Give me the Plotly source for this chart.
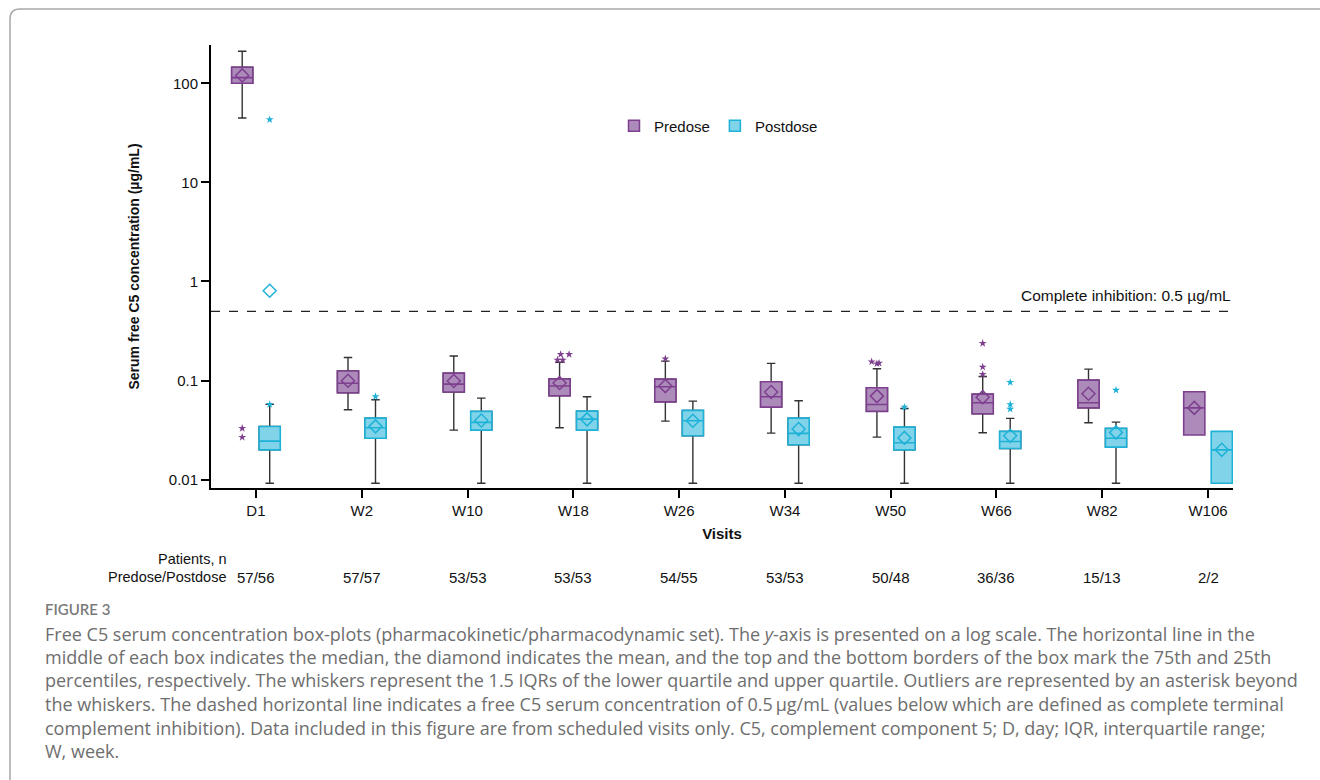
import numpy as np
import plotly.graph_objects as go

# ---------------- data ----------------
visits = ["D1", "W2", "W10", "W18", "W26", "W34", "W50", "W66", "W82", "W106"]
n_labels = ["57/56", "57/57", "53/53", "53/53", "54/55", "53/53", "50/48", "36/36", "15/13", "2/2"]

pre_q1 = [100, 0.0753, 0.0766, 0.0703, 0.061, 0.054, 0.0489, 0.0462, 0.053, 0.0282]
pre_med = [114, 0.094, 0.092, 0.088, 0.0867, 0.0687, 0.0574, 0.0597, 0.0597, 0.053]
pre_q3 = [145, 0.125, 0.119, 0.104, 0.1035, 0.0973, 0.0846, 0.073, 0.101, 0.077]
pre_lo = [44.6, 0.0507, 0.0316, 0.0334, 0.039, 0.0295, 0.0269, 0.0297, 0.0375]
pre_hi = [210, 0.171, 0.177, 0.153, 0.157, 0.149, 0.1315, 0.110, 0.1306]
pre_mean = [120, 0.0995, 0.0989, 0.0944, 0.088, 0.0766, 0.0697, 0.068, 0.0736, 0.053]

post_q1 = [0.020, 0.0262, 0.0316, 0.0316, 0.0277, 0.0225, 0.020, 0.0206, 0.0213, 0.0092]
post_med = [0.0245, 0.0334, 0.0379, 0.0408, 0.0393, 0.0293, 0.0236, 0.0243, 0.0262, 0.020]
post_q3 = [0.0344, 0.0418, 0.0489, 0.0492, 0.050, 0.0418, 0.0339, 0.0307, 0.0329, 0.0307]
post_lo = [0.0092, 0.0092, 0.0092, 0.0092, 0.0092, 0.0092, 0.0092, 0.0092, 0.0092]
post_hi = [0.0575, 0.064, 0.0665, 0.0687, 0.062, 0.0625, 0.0523, 0.0415, 0.0381]
post_mean = [0.805, 0.0345, 0.0396, 0.0406, 0.0393, 0.0324, 0.0264, 0.0277, 0.030, 0.020]

# outliers: visit index and value
pre_out_visit = [0, 0, 3, 3, 3, 3, 4, 6, 6, 6, 7, 7, 7]
pre_out_val = [0.033, 0.0268, 0.184, 0.184, 0.161, 0.161, 0.166, 0.155, 0.148, 0.150, 0.2377, 0.137, 0.1156]
pre_out_jitter = [0, 0, 0.01, 0.09, -0.02, 0.03, 0, -0.05, 0, 0.02, 0, 0, 0]
post_out_visit = [0, 0, 1, 6, 7, 7, 7, 8]
post_out_val = [43, 0.0575, 0.069, 0.054, 0.0959, 0.0574, 0.0515, 0.080]
post_out_jitter = [0, 0, 0, 0, 0, 0, 0, 0]

threshold = 0.5

# ---------------- style ----------------
PRE_LINE = "#7E3F8F"
PRE_FILL = "#AC8BBA"
POST_LINE = "#1EB2D8"
POST_FILL = "#80D3E9"
WHISK = "#333333"
FONT = "Liberation Sans, Arial, sans-serif"
CAP_FONT = "Open Sans, Lato, sans-serif"

W, H = 1320, 780
L, R, T, B = 211, 1233, 45, 488
OFF = 0.13
BW = 0.2


def px_x(x):
    return (x - L) / (R - L)


def px_y(y):
    return 1 - (y - T) / (B - T)


xi = np.arange(len(visits))
x_pre = xi - OFF
x_post = xi + OFF

fig = go.Figure()

# whiskers (black) for predose/postdose
for xs, lo, hi, q1, md, q3 in [
    (x_pre, pre_lo, pre_hi, pre_q1, pre_med, pre_q3),
    (x_post, post_lo, post_hi, post_q1, post_med, post_q3),
]:
    n = len(lo)
    fig.add_trace(go.Box(
        x=list(xs[:n]), q1=q1[:n], median=md[:n], q3=q3[:n],
        lowerfence=lo, upperfence=hi,
        width=BW, whiskerwidth=0.4, boxpoints=False,
        line=dict(color=WHISK, width=1.4), fillcolor="rgba(0,0,0,0)",
        showlegend=False, hoverinfo="skip",
    ))

# coloured boxes
for xs, q1, md, q3, lc, fc in [
    (x_pre, pre_q1, pre_med, pre_q3, PRE_LINE, PRE_FILL),
    (x_post, post_q1, post_med, post_q3, POST_LINE, POST_FILL),
]:
    fig.add_trace(go.Box(
        x=list(xs), q1=q1, median=md, q3=q3,
        lowerfence=q1, upperfence=q3,
        width=BW, whiskerwidth=0, boxpoints=False,
        line=dict(color=lc, width=1.6), fillcolor=fc,
        showlegend=False, hoverinfo="skip",
    ))

# means
fig.add_trace(go.Scatter(x=list(x_pre), y=pre_mean, mode="markers",
                         marker=dict(symbol="diamond-open", size=10, color=PRE_LINE, line=dict(width=1.5)),
                         showlegend=False, hoverinfo="skip"))
fig.add_trace(go.Scatter(x=list(x_post), y=post_mean, mode="markers",
                         marker=dict(symbol="diamond-open", size=10, color=POST_LINE, line=dict(width=1.5)),
                         showlegend=False, hoverinfo="skip"))

# outliers
fig.add_trace(go.Scatter(
    x=[v - OFF + j for v, j in zip(pre_out_visit, pre_out_jitter)], y=pre_out_val, mode="markers",
    marker=dict(symbol="star", size=6, color=PRE_LINE, line=dict(width=0)),
    showlegend=False, hoverinfo="skip"))
fig.add_trace(go.Scatter(
    x=[v + OFF + j for v, j in zip(post_out_visit, post_out_jitter)], y=post_out_val, mode="markers",
    marker=dict(symbol="star", size=6, color=POST_LINE, line=dict(width=0)),
    showlegend=False, hoverinfo="skip"))

# threshold line
xr = [-0.425, 9.236]
fig.add_trace(go.Scatter(x=xr, y=[threshold, threshold], mode="lines",
                         line=dict(color="#222222", width=1.3, dash="dash"),
                         showlegend=False, hoverinfo="skip"))

# legend entries
fig.add_trace(go.Scatter(x=[None], y=[None], mode="markers", name="Predose",
                         marker=dict(symbol="square", size=11, color=PRE_FILL, line=dict(color=PRE_LINE, width=1.5))))
fig.add_trace(go.Scatter(x=[None], y=[None], mode="markers", name="Postdose",
                         marker=dict(symbol="square", size=11, color=POST_FILL, line=dict(color=POST_LINE, width=1.5))))

annotations = []
annotations.append(dict(x=1, xref="paper", xanchor="right", y=np.log10(threshold), yref="y",
                        yanchor="bottom", yshift=5, showarrow=False,
                        text="Complete inhibition: 0.5 µg/mL", font=dict(family=FONT, size=15.5, color="#111")))

# patient counts
annotations.append(dict(x=px_x(229), xref="paper", xanchor="right", y=px_y(559), yref="paper",
                        yanchor="middle", showarrow=False, text="Patients, n",
                        font=dict(family=FONT, size=14.5, color="#111")))
annotations.append(dict(x=px_x(229), xref="paper", xanchor="right", y=px_y(577), yref="paper",
                        yanchor="middle", showarrow=False, text="Predose/Postdose",
                        font=dict(family=FONT, size=14.5, color="#111")))
for i, t in enumerate(n_labels):
    annotations.append(dict(x=i, xref="x", xanchor="center", y=px_y(577), yref="paper",
                            yanchor="middle", showarrow=False, text=t,
                            font=dict(family=FONT, size=15, color="#111")))

# caption
annotations.append(dict(x=px_x(43), xref="paper", xanchor="left", y=px_y(609), yref="paper",
                        yanchor="middle", showarrow=False, text="FIGURE 3",
                        font=dict(family="Lato, sans-serif", size=15, color="#7a7a7a", weight=600)))
caption = [
    "Free C5 serum concentration box-plots (pharmacokinetic/pharmacodynamic set). The <i>y</i>-axis is presented on a log scale. The horizontal line in the",
    "middle of each box indicates the median, the diamond indicates the mean, and the top and the bottom borders of the box mark the 75th and 25th",
    "percentiles, respectively. The whiskers represent the 1.5 IQRs of the lower quartile and upper quartile. Outliers are represented by an asterisk beyond",
    "the whiskers. The dashed horizontal line indicates a free C5 serum concentration of 0.5\u2009\u03bcg/mL (values below which are defined as complete terminal",
    "complement inhibition). Data included in this figure are from scheduled visits only. C5, complement component 5; D, day; IQR, interquartile range;",
    "W, week.",
]
cap_y = [634, 657, 680, 704, 728, 751]
for t, yy in zip(caption, cap_y):
    annotations.append(dict(x=px_x(43), xref="paper", xanchor="left", y=px_y(yy), yref="paper",
                            yanchor="middle", showarrow=False, text=t,
                            font=dict(family=CAP_FONT, size=18, color="#6e6e6e")))

# frame
x0, y0 = px_x(10), px_y(9)
path = (f"M {x0},{px_y(800)} L {x0},{px_y(19)} Q {x0},{y0} {px_x(20)},{y0} L {px_x(1340)},{y0}")
shapes = [dict(type="path", xref="paper", yref="paper", path=path,
               line=dict(color="#a8a8a8", width=1.5))]

fig.update_layout(
    width=W, height=H,
    margin=dict(l=L, r=W - R, t=T, b=H - B),
    paper_bgcolor="white", plot_bgcolor="white",
    boxmode="overlay",
    font=dict(family=FONT, size=15, color="#111"),
    legend=dict(orientation="h", x=px_x(614), xanchor="left", y=px_y(126), yanchor="middle",
                font=dict(family=FONT, size=15, color="#111"), bgcolor="rgba(0,0,0,0)"),
    annotations=annotations,
    shapes=shapes,
    xaxis=dict(range=xr, tickvals=list(xi), ticktext=visits, showline=True, linewidth=2,
               linecolor="black", ticks="outside", ticklen=8, tickwidth=2, tickcolor="black",
               showgrid=False, zeroline=False, tickfont=dict(size=15),
               title=dict(text="<b>Visits</b>", font=dict(size=15), standoff=10)),
    yaxis=dict(type="log", range=[-2.084, 2.386], tickvals=[0.01, 0.1, 1, 10, 100],
               ticktext=["0.01", "0.1", "1", "10", "100"], showline=True, linewidth=2,
               linecolor="black", ticks="outside", ticklen=8, tickwidth=2, tickcolor="black",
               showgrid=False, zeroline=False, tickfont=dict(size=15),
               title=dict(text="<b>Serum free C5 concentration (µg/mL)</b>", font=dict(size=14), standoff=26)),
)

fig.write_html("out.html")
